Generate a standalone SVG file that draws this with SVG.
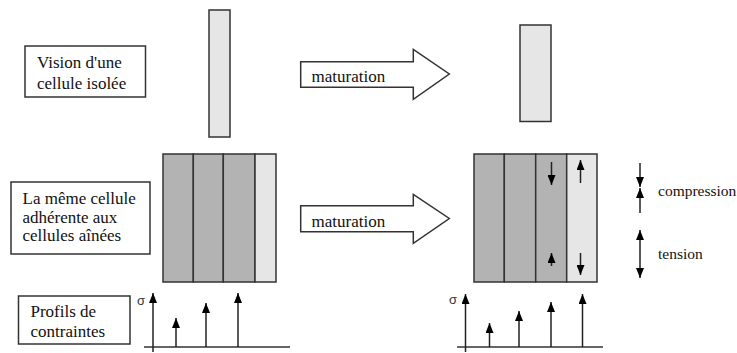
<svg xmlns="http://www.w3.org/2000/svg" width="737" height="353" viewBox="0 0 737 353">
<style>
.t{font-size:17px;fill:#111}
.s{font-size:15.5px;fill:#111}
.g{font-size:13px;fill:#333}
.box{fill:#fff;stroke:#333;stroke-width:1.5}
.dk{fill:#b3b3b3;stroke:#333;stroke-width:1.5}
.lt{fill:#e6e6e6;stroke:#333;stroke-width:1.5}
.ln{stroke:#333;stroke-width:1.5;fill:none}
.ar{stroke:#222;stroke-width:1.5;fill:none;marker-end:url(#h)}
</style>
<defs>
<marker id="h" markerUnits="userSpaceOnUse" markerWidth="10" markerHeight="8" viewBox="0 0 10 8" refX="10" refY="4" orient="auto">
<path d="M0,0 L10,4 L0,8 z" fill="#000"/>
</marker>
</defs>
<rect width="737" height="353" fill="#fff"/>
<g font-family="Liberation Serif, DejaVu Serif, Times New Roman, serif">
<g id="label-vision">
<rect class="box" x="25" y="46" width="120.5" height="51"/>
<text class="t" x="37" y="68">Vision d'une</text>
<text class="t" x="37" y="89">cellule isolée</text>
</g>

<g id="label-meme">
<rect class="box" x="11" y="182" width="139" height="72"/>
<text class="t" x="22.5" y="204">La même cellule</text>
<text class="t" x="22.5" y="222.5">adhérente aux</text>
<text class="t" x="22.5" y="241">cellules aînées</text>
</g>

<g id="label-profils">
<rect class="box" x="18.5" y="296" width="111.5" height="48"/>
<text class="t" x="30.5" y="316.5">Profils de</text>
<text class="t" x="30.5" y="336.5">contraintes</text>
</g>

<g id="cell-isolated-before">
<rect class="lt" x="209" y="10" width="21" height="127"/>
</g>

<g id="cell-isolated-after">
<rect class="lt" x="520" y="25" width="31" height="96.5"/>
</g>

<g id="arrow-maturation-1">
<path class="box" d="M300.7,61.7 L413.3,61.7 L413.3,49.3 L449.3,74 L413.3,99.3 L413.3,87.3 L300.7,87.3 Z"/>
<text class="t" x="311.5" y="81.5">maturation</text>
</g>

<g id="arrow-maturation-2">
<path class="box" d="M300.7,205.7 L413.3,205.7 L413.3,194.3 L449.3,218.5 L413.3,243.3 L413.3,231.7 L300.7,231.7 Z"/>
<text class="t" x="311.5" y="226.5">maturation</text>
</g>

<g id="tissue-before">
<rect class="dk" x="163" y="154" width="30.3" height="128"/>
<rect class="dk" x="193.3" y="154" width="30" height="128"/>
<rect class="dk" x="223.3" y="154" width="31.7" height="128"/>
<rect class="lt" x="255" y="154" width="21" height="128"/>
</g>

<g id="tissue-after">
<rect class="dk" x="474" y="154" width="30.3" height="128"/>
<rect class="dk" x="504.3" y="154" width="31.4" height="128"/>
<rect class="dk" x="535.7" y="154" width="31" height="128"/>
<rect class="lt" x="566.7" y="154" width="30.3" height="128"/>
</g>

<g id="legend">
<text class="s" x="658" y="196">compression</text>
<text class="s" x="658" y="258.5">tension</text>
</g>
</g>
<g id="profile-labels" font-family="Liberation Sans, DejaVu Sans, sans-serif">
<text class="g" x="137" y="305">σ</text>
<text class="g" x="449" y="304">σ</text>
</g>

<g id="connectors">
<line class="ln" x1="144" y1="347" x2="290" y2="347"/>
<line class="ar" x1="153" y1="352" x2="153" y2="293"/>
<line class="ar" x1="176" y1="347" x2="176" y2="318"/>
<line class="ar" x1="206" y1="347" x2="206" y2="303"/>
<line class="ar" x1="238" y1="347" x2="238" y2="293"/>
<line class="ln" x1="457" y1="347" x2="603" y2="347"/>
<line class="ar" x1="465.5" y1="352" x2="465.5" y2="294"/>
<line class="ar" x1="489.5" y1="347" x2="489.5" y2="323"/>
<line class="ar" x1="519" y1="347" x2="519" y2="311"/>
<line class="ar" x1="551" y1="347" x2="551" y2="302"/>
<line class="ar" x1="582.5" y1="347" x2="582.5" y2="294"/>
<line class="ar" x1="551.5" y1="162" x2="551.5" y2="185"/>
<line class="ar" x1="551.5" y1="266" x2="551.5" y2="253"/>
<line class="ar" x1="580.5" y1="183" x2="580.5" y2="160"/>
<line class="ar" x1="580.5" y1="253" x2="580.5" y2="275"/>
<line class="ar" x1="640" y1="163" x2="640" y2="187"/>
<line class="ar" x1="640" y1="213" x2="640" y2="188"/>
<line class="ar" x1="640" y1="253" x2="640" y2="230"/>
<line class="ar" x1="640" y1="253" x2="640" y2="278"/>
</g>
</svg>
